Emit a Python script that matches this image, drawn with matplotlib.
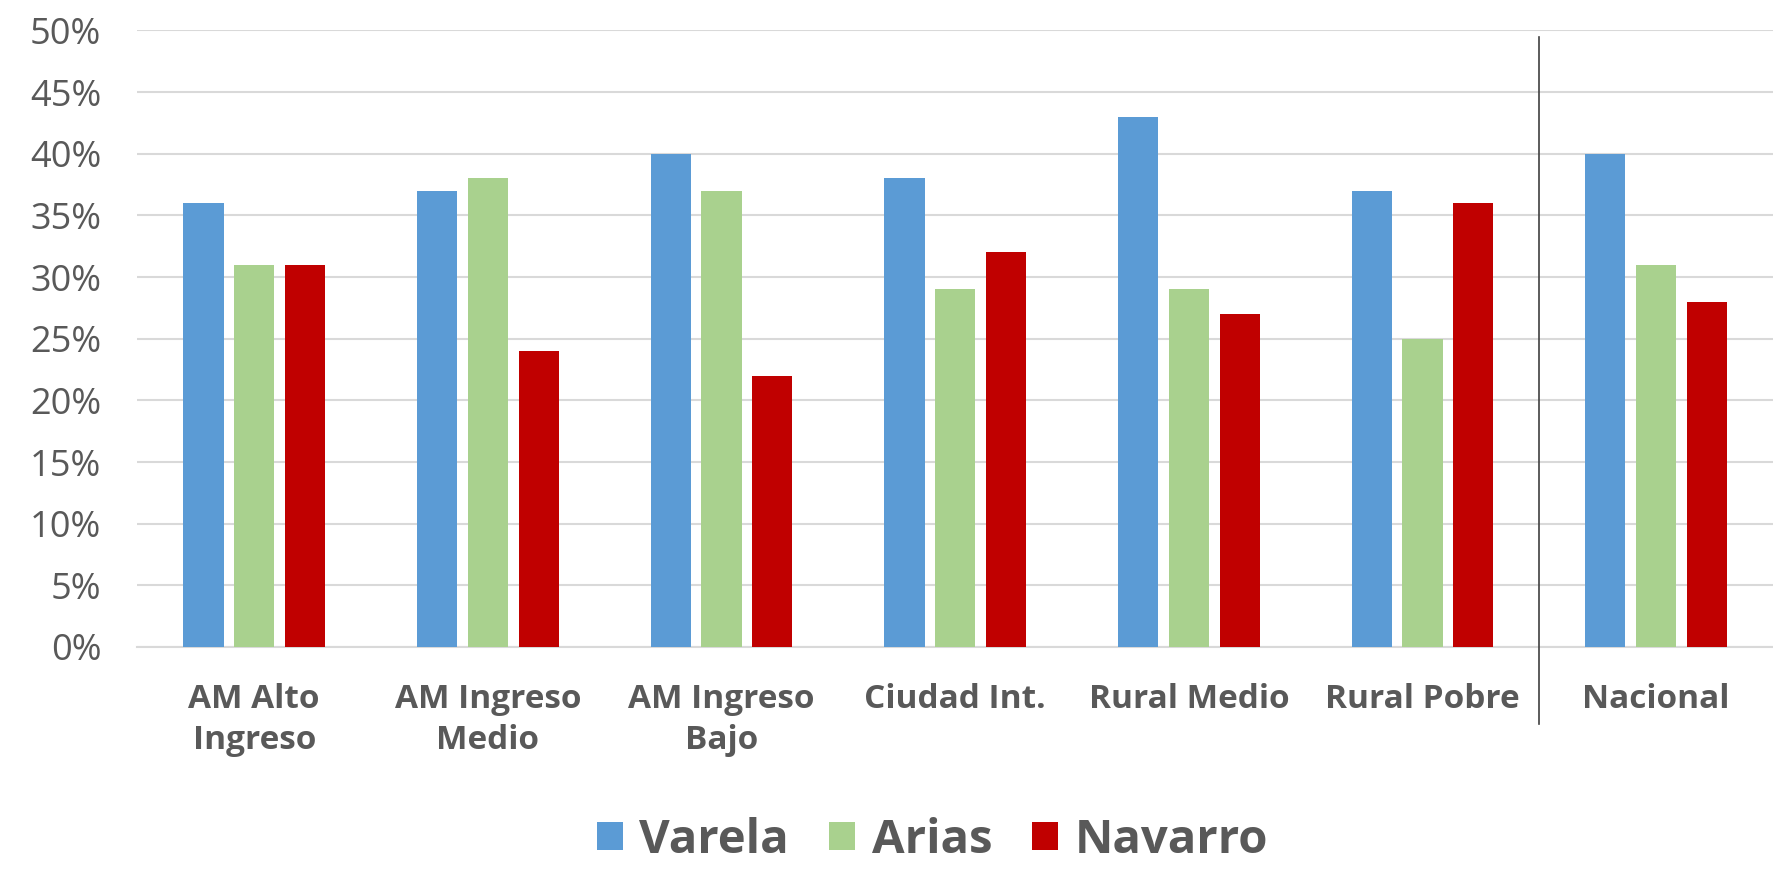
import matplotlib.pyplot as plt
import numpy as np
from matplotlib.patches import Patch
import matplotlib.transforms as mtransforms

plt.rcParams["font.family"] = ["Open Sans", "DejaVu Sans"]

CATEGORIES = ["AM Alto\nIngreso", "AM Ingreso\nMedio", "AM Ingreso\nBajo",
              "Ciudad Int.", "Rural Medio", "Rural Pobre", "Nacional"]
SERIES = ["Varela", "Arias", "Navarro"]
VARELA = [0.36, 0.37, 0.40, 0.38, 0.43, 0.37, 0.40]
ARIAS = [0.31, 0.38, 0.37, 0.29, 0.29, 0.25, 0.31]
NAVARRO = [0.31, 0.24, 0.22, 0.32, 0.27, 0.36, 0.28]
COLORS = ["#5B9BD5", "#A9D18E", "#C00000"]
YTICKS = [0.0, 0.05, 0.10, 0.15, 0.20, 0.25, 0.30, 0.35, 0.40, 0.45, 0.50]

TEXT = "#595959"
GRID = "#D9D9D9"

fig = plt.figure(figsize=(17.73, 8.69), dpi=100)
ax = fig.add_axes([0.0775, 0.2555, 0.9225, 0.7095])

x = np.arange(len(CATEGORIES))
width = 0.172
offset = 0.2174
for i, (vals, col) in enumerate(zip([VARELA, ARIAS, NAVARRO], COLORS)):
    ax.bar(x + (i - 1) * offset, vals, width=width, color=col, zorder=3)

ax.set_xlim(-0.5, len(CATEGORIES) - 0.5)
ax.set_ylim(0, 0.5)
ax.set_yticks(YTICKS)
ax.set_yticklabels([f"{int(round(v * 100))}%" for v in YTICKS])
ax.set_xticks(x)
ax.set_xticklabels(CATEGORIES, fontweight="bold", linespacing=1.3)

ax.grid(axis="y", color=GRID, linewidth=1.5, zorder=0)
ax.set_axisbelow(True)
for s in ["top", "right", "left"]:
    ax.spines[s].set_visible(False)
ax.spines["bottom"].set_color(GRID)
ax.spines["bottom"].set_linewidth(1.5)
ax.tick_params(axis="y", length=0, pad=26, labelsize=26, labelcolor=TEXT)
ax.tick_params(axis="x", length=0, pad=26, labelsize=24, labelcolor=TEXT)

# separator before Nacional
trans = mtransforms.blended_transform_factory(ax.transData, ax.transAxes)
ax.plot([5.5, 5.5], [0.99, -0.125], transform=trans, color="#404040",
        linewidth=1.2, clip_on=False, zorder=4)

handles = [Patch(facecolor=c, edgecolor="none") for c in COLORS]
fig.legend(handles, SERIES, loc="center", bbox_to_anchor=(0.526, 0.033), ncol=3,
           frameon=False, prop={"weight": "bold", "size": 34},
           labelcolor=TEXT, handlelength=0.55, handleheight=0.55,
           handletextpad=0.35, columnspacing=0.85)

fig.savefig("out.png", dpi=100)
